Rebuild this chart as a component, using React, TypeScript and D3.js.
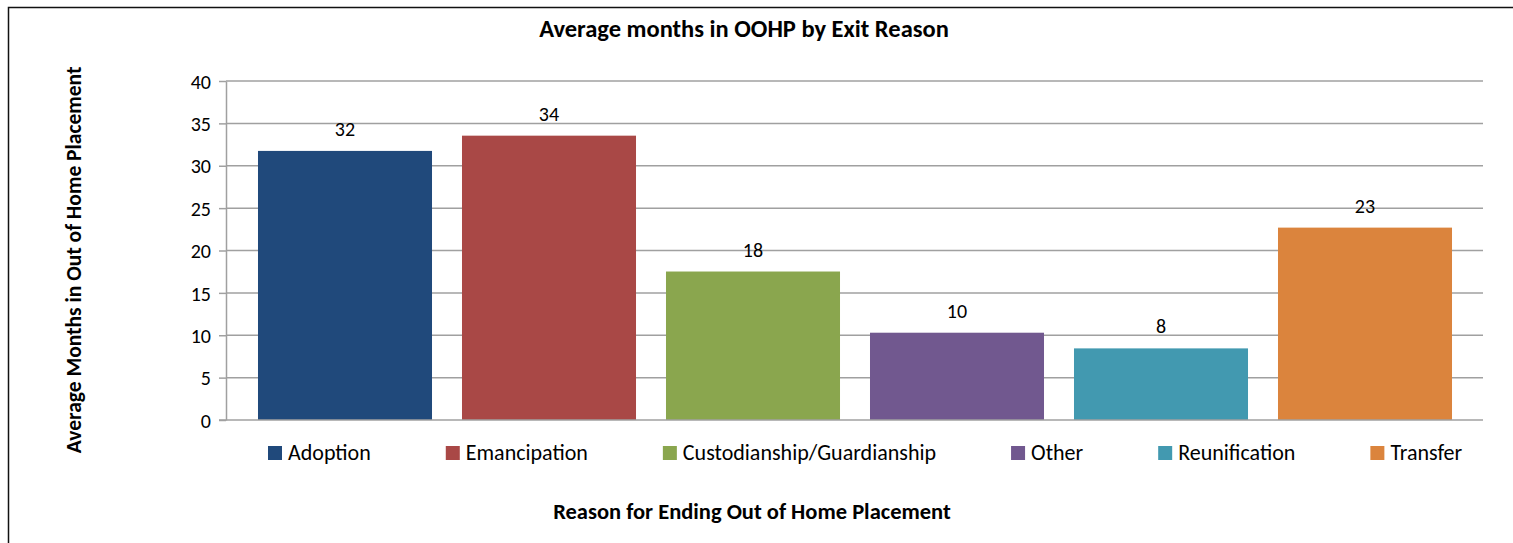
import * as d3 from "d3";
import React, { useEffect, useRef } from "react";

const categories = [
  "Adoption",
  "Emancipation",
  "Custodianship/Guardianship",
  "Other",
  "Reunification",
  "Transfer",
];
const avgMonths = [31.75, 33.55, 17.52, 10.3, 8.45, 22.7];
const barColors = ["#20497B", "#A94846", "#8AA64E", "#71588F", "#4299B0", "#DB843D"];
const yTicks = [0, 5, 10, 15, 20, 25, 30, 35, 40];

const chartTitle = "Average months in OOHP by Exit Reason";
const yTitle = "Average Months in Out of Home Placement";
const xTitle = "Reason for Ending Out of Home Placement";

const FONT = "Carlito, Calibri, Lato, 'Noto Sans', sans-serif";

const App: React.FC = () => {
  const svgRef = useRef<SVGSVGElement | null>(null);
  const width = 1513;
  const height = 543;

  useEffect(() => {
    document.body.style.overflow = "hidden";
    const svg = d3.select(svgRef.current);
    svg.selectAll("*").remove();

    // outer chart frame: only left and top edges are in view
    svg
      .append("path")
      .attr("d", "M8.5,600V7.5H1600")
      .attr("fill", "none")
      .attr("stroke", "#111")
      .attr("stroke-width", 1.5);

    const x = d3
      .scaleBand<string>()
      .domain(categories)
      .range([243, 1467])
      .paddingInner(0.147)
      .paddingOuter(0.0735);

    const y = d3.scaleLinear().domain([0, 40]).range([420, 81]);

    const plotLeft = 226;
    const plotRight = 1483;

    // gridlines
    svg
      .append("g")
      .selectAll("line")
      .data(yTicks.filter((t) => t > 0))
      .enter()
      .append("line")
      .attr("x1", plotLeft)
      .attr("x2", plotRight)
      .attr("y1", (d) => y(d))
      .attr("y2", (d) => y(d))
      .attr("stroke", "#a0a0a0")
      .attr("stroke-width", 1.5);

    // y axis
    const yAxis = svg
      .append("g")
      .attr("transform", `translate(${plotLeft},0)`)
      .call(d3.axisLeft(y).tickValues(yTicks).tickSizeInner(7).tickSizeOuter(0).tickPadding(8));
    yAxis.select(".domain").attr("stroke", "#a0a0a0").attr("stroke-width", 1.5);
    yAxis.selectAll(".tick line").attr("stroke", "#a0a0a0").attr("stroke-width", 1.5);
    yAxis
      .selectAll(".tick text")
      .attr("font-family", FONT)
      .attr("font-size", 20)
      .attr("fill", "#000")
      .attr("dy", "0.36em");

    // bars
    svg
      .append("g")
      .selectAll("rect")
      .data(avgMonths)
      .enter()
      .append("rect")
      .attr("x", (_, i) => x(categories[i])!)
      .attr("width", x.bandwidth())
      .attr("y", (d) => y(d))
      .attr("height", (d) => y(0) - y(d))
      .attr("fill", (_, i) => barColors[i]);

    // x axis baseline
    svg
      .append("line")
      .attr("x1", 219)
      .attr("x2", plotRight)
      .attr("y1", y(0))
      .attr("y2", y(0))
      .attr("stroke", "#a0a0a0")
      .attr("stroke-width", 1.5);

    // value labels
    svg
      .append("g")
      .selectAll("text")
      .data(avgMonths)
      .enter()
      .append("text")
      .attr("x", (_, i) => x(categories[i])! + x.bandwidth() / 2)
      .attr("y", (d) => y(d) - 15)
      .attr("text-anchor", "middle")
      .attr("font-family", FONT)
      .attr("font-size", 20)
      .attr("fill", "#000")
      .text((d) => Math.round(d).toString());

    // title
    svg
      .append("text")
      .attr("x", 744)
      .attr("y", 37)
      .attr("text-anchor", "middle")
      .attr("font-family", FONT)
      .attr("font-weight", "bold")
      .attr("font-size", 24.5)
      .text(chartTitle);

    // axis titles
    svg
      .append("text")
      .attr("transform", `translate(81,260) rotate(-90)`)
      .attr("text-anchor", "middle")
      .attr("font-family", FONT)
      .attr("font-weight", "bold")
      .attr("font-size", 21.5)
      .text(yTitle);

    svg
      .append("text")
      .attr("x", 752)
      .attr("y", 519)
      .attr("text-anchor", "middle")
      .attr("font-family", FONT)
      .attr("font-weight", "bold")
      .attr("font-size", 22.5)
      .text(xTitle);

    // legend, laid out by measured text widths
    const legend = svg.append("g").attr("transform", "translate(268,446)");
    let cursor = 0;
    categories.forEach((c, i) => {
      const item = legend.append("g").attr("transform", `translate(${cursor},0)`);
      item.append("rect").attr("width", 14).attr("height", 14).attr("fill", barColors[i]);
      const t = item
        .append("text")
        .attr("x", 20)
        .attr("y", 13.5)
        .attr("font-family", FONT)
        .attr("font-size", 22)
        .attr("fill", "#000")
        .text(c);
      const w = (t.node() as SVGTextElement).getComputedTextLength();
      cursor += 20 + w + 75;
    });
  }, []);

  return (
    <svg
      ref={svgRef}
      width={width}
      height={height}
      style={{ position: "absolute", left: 0, top: 0, display: "block" }}
    ></svg>
  );
};

export default App;
